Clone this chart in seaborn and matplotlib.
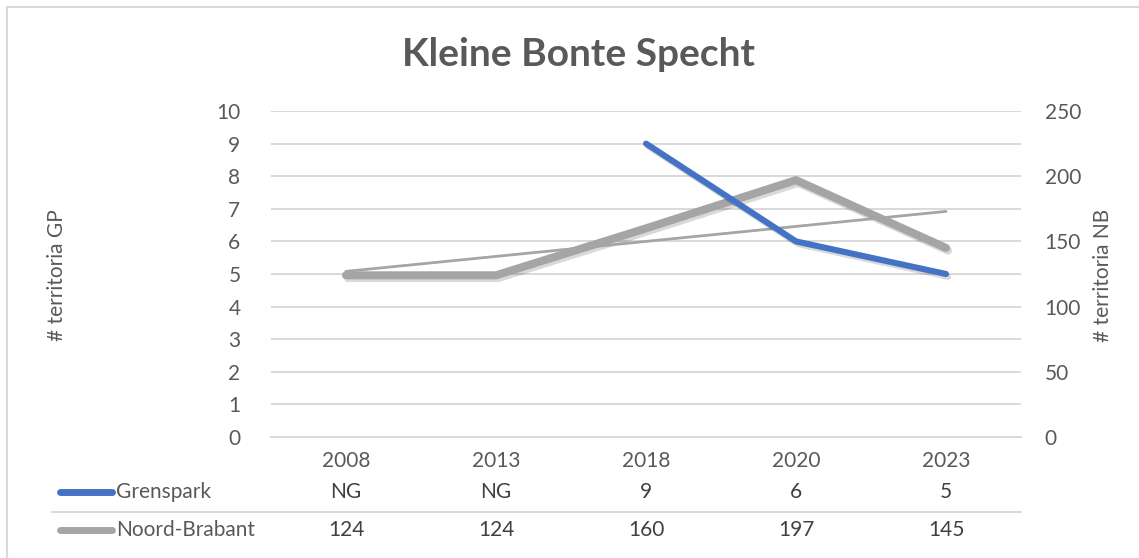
import numpy as np
import pandas as pd
import seaborn as sns
import matplotlib.pyplot as plt
import matplotlib.patheffects as pe
from matplotlib.lines import Line2D
from matplotlib.patches import Rectangle
from matplotlib.ticker import FuncFormatter

# Data
years = ["2008", "2013", "2018", "2020", "2023"]
grenspark = [np.nan, np.nan, 9, 6, 5]
grenspark_table = ["NG", "NG", "9", "6", "5"]
noord_brabant = [124, 124, 160, 197, 145]

BLUE = "#4472C4"
GRAY = "#A5A5A5"
GRID = "#D9D9D9"
TXT = "#595959"
TXT_DARK = "#404040"
FS = 15

df = pd.DataFrame({"pos": np.arange(len(years)), "year": years,
                   "gp": grenspark, "nb": noord_brabant})

sns.set_style("white")
plt.rcParams["font.family"] = ["Lato", "DejaVu Sans"]

fig = plt.figure(figsize=(11.39, 5.58), dpi=100)
W, H = 1139, 558
ax = fig.add_axes([271 / W, (H - 437) / H, 750 / W, 326 / H])
ax2 = ax.twinx()

# ax2 (right, NB) underneath, carries the gridlines
ax.set_zorder(2)
ax2.set_zorder(1)
ax.patch.set_visible(False)

shadow = [pe.SimpleLineShadow(offset=(1.5, -2), shadow_color="black", alpha=0.15), pe.Normal()]

sns.lineplot(data=df, x="pos", y="nb", ax=ax2, color=GRAY, linewidth=5.8,
             solid_capstyle="round", solid_joinstyle="round", path_effects=shadow)
# linear trendline for Noord-Brabant
coef = np.polyfit(df["pos"], df["nb"], 1)
ax2.plot(df["pos"], np.polyval(coef, df["pos"]), color=GRAY, linewidth=2.0,
         solid_capstyle="round")

sns.lineplot(data=df, x="pos", y="gp", ax=ax, color=BLUE, linewidth=4.4,
             solid_capstyle="round", solid_joinstyle="round", path_effects=shadow)

ax.set_xlim(-0.5, len(years) - 0.5)
ax.set_ylim(0, 10)
ax2.set_ylim(0, 250)
ax.set_yticks(range(0, 11))
ax2.set_yticks(range(0, 251, 25))
ax2.yaxis.set_major_formatter(FuncFormatter(lambda v, p: f"{int(v)}" if int(v) % 50 == 0 else ""))
ax2.grid(True, axis="y", color=GRID, linewidth=1.4)
ax2.set_axisbelow(True)
ax.grid(False)

ax.set_xticks(df["pos"])
ax.set_xticklabels(years)
ax.tick_params(axis="x", length=0, pad=10, labelsize=FS, labelcolor=TXT)
ax.tick_params(axis="y", length=0, pad=22, labelsize=FS, labelcolor=TXT)
ax2.tick_params(axis="y", length=0, pad=17, labelsize=FS, labelcolor=TXT)
ax.set_xlabel("")
ax.set_ylabel("")
ax2.set_ylabel("")

for a in (ax, ax2):
    for s in a.spines.values():
        s.set_visible(False)
ax2.spines["bottom"].set_visible(True)
ax2.spines["bottom"].set_color(GRID)
ax2.spines["bottom"].set_linewidth(1.4)

fig.text(57 / W, 1 - 275 / H, "# territoria GP", rotation=90, ha="center", va="center",
         fontsize=FS, color=TXT)
fig.text(1103 / W, 1 - 275 / H, "# territoria NB", rotation=90, ha="center", va="center",
         fontsize=FS, color=TXT)

fig.text(579 / W, 1 - 55 / H, "Kleine Bonte Specht", ha="center", va="center",
         fontsize=28, fontweight="bold", color=TXT)

# data table below the axis
row_y = [1 - 492 / H, 1 - 530 / H]
row_names = ["Grenspark", "Noord-Brabant"]
row_colors = [BLUE, GRAY]
row_vals = [grenspark_table, [str(v) for v in noord_brabant]]
xtr = ax.get_xaxis_transform()
for yy, name, col, vals in zip(row_y, row_names, row_colors, row_vals):
    fig.add_artist(Line2D([60 / W, 112 / W], [yy, yy], color=col, linewidth=5,
                          solid_capstyle="round", transform=fig.transFigure))
    fig.text(116 / W, yy, name, ha="left", va="center", fontsize=FS, color=TXT)
    for p, v in zip(df["pos"], vals):
        ax.text(p, (fig.transFigure.transform((0, yy))[1] - ax.transAxes.transform((0, 0))[1])
                / ax.bbox.height, v, transform=xtr, ha="center", va="center",
                fontsize=FS, color=TXT_DARK, clip_on=False)

fig.add_artist(Line2D([52 / W, 1021 / W], [1 - 512 / H, 1 - 512 / H], color=GRID,
                      linewidth=1.4, transform=fig.transFigure))

# chart border
fig.add_artist(Rectangle((7 / W, -0.1), 1.2, 1 - 7 / H + 0.1, transform=fig.transFigure,
                         fill=False, edgecolor=GRID, linewidth=1.5))

fig.savefig("out.png", dpi=100)
